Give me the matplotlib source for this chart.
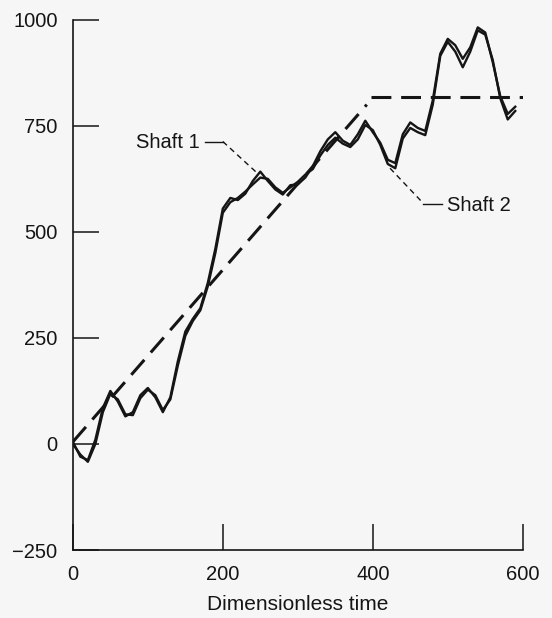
import matplotlib
matplotlib.use("Agg")
import matplotlib.pyplot as plt

# dimensionless time samples
time = list(range(0, 600, 10))

shaft1 = [5, -30, -38, 10, 85, 125, 100, 65, 75, 115,
          132, 110, 75, 110, 195, 265, 295, 320, 380, 460,
          555, 580, 575, 590, 620, 642, 620, 600, 588, 610,
          612, 628, 655, 690, 718, 735, 715, 705, 730, 762,
          735, 710, 670, 662, 730, 758, 745, 738, 810, 920,
          955, 940, 908, 935, 982, 970, 900, 820, 778, 795]

shaft2 = [0, -25, -42, 0, 75, 118, 105, 70, 68, 108,
          128, 115, 80, 105, 185, 255, 290, 315, 372, 450,
          545, 570, 580, 595, 612, 628, 625, 605, 592, 605,
          618, 635, 648, 680, 705, 722, 708, 700, 718, 752,
          740, 705, 660, 650, 720, 745, 735, 728, 800, 915,
          948, 925, 888, 925, 975, 965, 905, 815, 765, 785]

# dashed trend: linear rise, then plateau
trend_x = [0, 392]
trend_y = [5, 800]
plateau_x = [398, 600]
plateau_y = [818, 818]

bg = "#f6f6f6"
ink = "#151515"
plt.rcParams["font.family"] = ["Liberation Sans", "DejaVu Sans"]

fig = plt.figure(figsize=(5.52, 6.18), dpi=100)
fig.patch.set_facecolor(bg)
ax = fig.add_axes([0.132, 0.110, 0.815, 0.858])
ax.set_facecolor(bg)

ax.plot(time, shaft1, color=ink, lw=1.7)
ax.plot(time, shaft2, color=ink, lw=1.7)
ax.plot(trend_x, trend_y, color=ink, lw=2.2, dashes=(6.5, 3.2))
ax.plot(plateau_x, plateau_y, color=ink, lw=2.2, dashes=(6.5, 3.2))

# leader lines for labels
ax.plot([176, 200], [713, 713], color=ink, lw=1)
ax.plot([200, 245], [713, 640], color=ink, lw=1, dashes=(4, 3))
ax.text(84, 710, "Shaft 1", fontsize=14.5, va="center", ha="left", color=ink)

ax.plot([423, 467], [650, 568], color=ink, lw=1, dashes=(4, 3))
ax.plot([467, 492], [565, 565], color=ink, lw=1)
ax.text(499, 563, "Shaft 2", fontsize=14.5, va="center", ha="left", color=ink)

ax.set_xlim(0, 600)
ax.set_ylim(-250, 1000)
ax.set_xticks([0, 200, 400, 600])
ax.set_yticks([-250, 0, 250, 500, 750, 1000])

for side in ["top", "right"]:
    ax.spines[side].set_visible(False)
for side in ["left", "bottom"]:
    ax.spines[side].set_linewidth(1.2)
    ax.spines[side].set_color(ink)

ax.tick_params(axis="both", direction="in", length=18.5, width=1.1,
               colors=ink, labelsize=14.5)
ax.tick_params(axis="y", pad=11)
ax.tick_params(axis="x", pad=11)
ax.set_xlabel("Dimensionless time", fontsize=15, color=ink, labelpad=8)

fig.savefig("out.png", dpi=100, facecolor=bg)
